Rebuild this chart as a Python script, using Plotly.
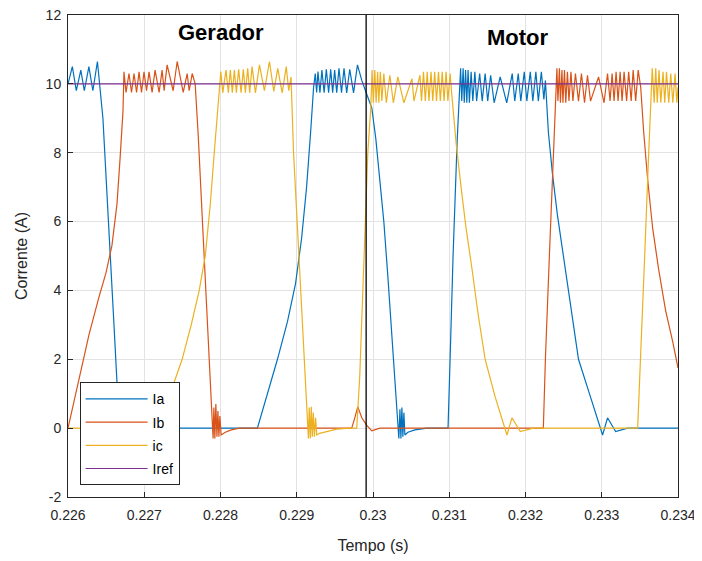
import plotly.graph_objects as go

# Phase currents (time in s, current in A)
t_ia = [0.226000, 0.226057, 0.226109, 0.226168, 0.226214, 0.226274, 0.226326, 0.226386,
        0.226458, 0.226537, 0.226603, 0.226655, 0.226695, 0.228484, 0.228616, 0.228747,
        0.228879, 0.228984, 0.229063, 0.229129, 0.229182, 0.229221, 0.229243, 0.229261,
        0.229278, 0.229304, 0.229330, 0.229359, 0.229388, 0.229418, 0.229445, 0.229471,
        0.229497, 0.229524, 0.229554, 0.229587, 0.229620, 0.229655, 0.229695, 0.229745,
        0.229796, 0.229853, 0.229918, 0.229984, 0.230037, 0.230089, 0.230142, 0.230195,
        0.230234, 0.230274, 0.230307, 0.230326, 0.230339, 0.230353, 0.230366, 0.230379,
        0.230392, 0.230405, 0.230418, 0.230458, 0.230550, 0.230708, 0.230984, 0.231011,
        0.231050, 0.231103, 0.231149, 0.231164, 0.231182, 0.231197, 0.231214, 0.231230,
        0.231247, 0.231264, 0.231287, 0.231309, 0.231336, 0.231359, 0.231399, 0.231432,
        0.231471, 0.231504, 0.231543, 0.231589, 0.231668, 0.231754, 0.231826, 0.231859,
        0.231905, 0.231938, 0.231984, 0.232017, 0.232063, 0.232096, 0.232136, 0.232168,
        0.232208, 0.232241, 0.232261, 0.232300, 0.232353, 0.232418, 0.232497, 0.232589,
        0.232695, 0.232853, 0.232958, 0.233011, 0.233076, 0.233182, 0.233339, 0.234000]
i_a = [10.0, 10.5, 9.8, 10.4, 9.8, 10.5, 9.8, 10.65,
       9.0, 5.9, 3.0, 0.8, 0.0, 0.0, 1.0, 2.0,
       3.1, 4.2, 5.5, 7.0, 8.6, 9.9, 10.3, 9.75,
       10.36, 9.74, 10.4, 9.74, 10.42, 9.74, 10.42, 9.74,
       10.4, 9.74, 10.45, 9.74, 10.45, 9.74, 10.42, 9.74,
       10.55, 10.1, 9.7, 9.3, 8.4, 7.2, 6.0, 4.4,
       3.1, 1.8, 0.7, 0.0, -0.3, 0.55, -0.3, 0.6,
       -0.25, 0.45, -0.2, -0.12, -0.05, 0.0, 0.0, 2.0,
       5.0, 8.3, 10.45, 9.5, 10.45, 9.45, 10.4, 9.45,
       10.4, 9.45, 10.35, 9.5, 10.35, 9.5, 10.3, 9.5,
       10.3, 9.5, 10.25, 9.45, 10.2, 9.45, 10.3, 9.5,
       10.3, 9.5, 10.35, 9.5, 10.35, 9.5, 10.35, 9.5,
       10.35, 9.55, 10.1, 8.6, 7.4, 6.2, 5.0, 3.6,
       2.0, 0.9, 0.2, -0.2, 0.3, -0.1, 0.0, 0.0]

t_ib = [0.226000, 0.226142, 0.226274, 0.226405, 0.226497, 0.226576, 0.226642, 0.226682,
        0.226721, 0.226734, 0.226761, 0.226800, 0.226833, 0.226866, 0.226899, 0.226932,
        0.226964, 0.226997, 0.227030, 0.227063, 0.227103, 0.227142, 0.227195, 0.227234,
        0.227261, 0.227300, 0.227379, 0.227432, 0.227511, 0.227563, 0.227589, 0.227629,
        0.227668, 0.227708, 0.227761, 0.227813, 0.227853, 0.227892, 0.227903, 0.227913,
        0.227926, 0.227939, 0.227953, 0.227966, 0.227979, 0.227992, 0.228008, 0.228063,
        0.228142, 0.228247, 0.229721, 0.229761, 0.229800, 0.229853, 0.229918, 0.229984,
        0.230089, 0.232234, 0.232261, 0.232313, 0.232366, 0.232412, 0.232425, 0.232445,
        0.232458, 0.232478, 0.232491, 0.232511, 0.232528, 0.232550, 0.232570, 0.232596,
        0.232622, 0.232655, 0.232695, 0.232734, 0.232774, 0.232813, 0.232853, 0.232958,
        0.233030, 0.233076, 0.233109, 0.233136, 0.233162, 0.233188, 0.233214, 0.233241,
        0.233267, 0.233293, 0.233326, 0.233353, 0.233386, 0.233412, 0.233445, 0.233478,
        0.233511, 0.233550, 0.233603, 0.233668, 0.233747, 0.233839, 0.233932, 0.234000]
i_b = [0.0, 1.4, 2.7, 3.8, 4.5, 5.3, 6.5, 7.8,
       9.2, 10.35, 9.75, 10.3, 9.75, 10.3, 9.75, 10.35,
       9.75, 10.35, 9.8, 10.35, 9.75, 10.4, 9.75, 10.4,
       9.8, 10.55, 9.8, 10.65, 9.75, 10.3, 9.8, 10.3,
       10.0, 8.5, 6.2, 3.9, 2.0, 0.2, -0.3, 0.6,
       -0.3, 0.7, -0.25, 0.5, -0.25, 0.35, -0.2, -0.12,
       -0.05, 0.0, 0.0, 0.3, 0.62, 0.3, 0.08, -0.08,
       0.0, 0.0, 2.0, 5.0, 8.0, 10.45, 9.5, 10.45,
       9.45, 10.4, 9.45, 10.4, 9.45, 10.35, 9.5, 10.35,
       9.5, 10.3, 9.5, 10.3, 9.45, 10.25, 9.5, 10.2,
       9.45, 10.3, 9.5, 10.3, 9.5, 10.35, 9.5, 10.35,
       9.5, 10.35, 9.5, 10.35, 9.5, 10.4, 9.5, 10.4,
       9.9, 8.6, 7.2, 5.8, 4.6, 3.4, 2.5, 1.75]

t_ic = [0.226000, 0.227129, 0.227261, 0.227392, 0.227497, 0.227616, 0.227721, 0.227800,
        0.227866, 0.227918, 0.227971, 0.228004, 0.228030, 0.228072, 0.228103, 0.228129,
        0.228155, 0.228182, 0.228208, 0.228238, 0.228270, 0.228300, 0.228326, 0.228357,
        0.228383, 0.228414, 0.228458, 0.228511, 0.228576, 0.228642, 0.228699, 0.228751,
        0.228809, 0.228862, 0.228895, 0.228925, 0.228958, 0.229011, 0.229063, 0.229103,
        0.229142, 0.229153, 0.229164, 0.229178, 0.229191, 0.229204, 0.229217, 0.229232,
        0.229247, 0.229263, 0.229300, 0.229524, 0.229695, 0.229787, 0.229826, 0.229879,
        0.229932, 0.229971, 0.229988, 0.230004, 0.230024, 0.230041, 0.230061, 0.230076,
        0.230096, 0.230116, 0.230142, 0.230175, 0.230221, 0.230267, 0.230326, 0.230405,
        0.230511, 0.230537, 0.230616, 0.230636, 0.230662, 0.230686, 0.230711, 0.230734,
        0.230761, 0.230784, 0.230809, 0.230833, 0.230859, 0.230883, 0.230908, 0.230932,
        0.230958, 0.230982, 0.231011, 0.231037, 0.231089, 0.231155, 0.231221, 0.231300,
        0.231379, 0.231471, 0.231603, 0.231757, 0.231822, 0.231932, 0.232103, 0.233471,
        0.233511, 0.233563, 0.233616, 0.233662, 0.233688, 0.233708, 0.233728, 0.233751,
        0.233774, 0.233804, 0.233826, 0.233849, 0.233879, 0.233905, 0.233932, 0.233962,
        0.233984, 0.234000]
i_c = [0.0, 0.0, 0.5, 1.3, 2.0, 3.0, 4.0, 5.0,
       6.5, 8.0, 9.4, 10.36, 9.74, 10.4, 9.74, 10.4,
       9.74, 10.4, 9.74, 10.42, 9.74, 10.42, 9.74, 10.45,
       9.74, 10.5, 9.74, 10.55, 9.8, 10.65, 9.78, 10.45,
       9.74, 10.5, 9.8, 10.2, 8.0, 5.8, 3.6, 1.8,
       0.2, -0.3, 0.6, -0.3, 0.62, -0.25, 0.45, -0.25,
       0.3, -0.2, -0.15, -0.03, 0.0, 0.0, 1.5, 5.0,
       8.0, 9.3, 10.4, 9.45, 10.4, 9.45, 10.35, 9.45,
       10.35, 9.5, 10.3, 9.45, 10.25, 9.45, 10.2, 9.45,
       10.15, 9.5, 10.25, 9.5, 10.35, 9.5, 10.35, 9.5,
       10.35, 9.5, 10.35, 9.5, 10.35, 9.5, 10.35, 9.5,
       10.35, 9.5, 10.3, 9.6, 8.3, 7.0, 5.8, 4.6,
       3.3, 2.0, 0.9, -0.2, 0.3, -0.1, 0.0, 0.0,
       2.0, 5.0, 8.0, 10.45, 9.45, 10.45, 9.45, 10.4,
       9.45, 10.35, 9.45, 10.35, 9.45, 10.3, 9.45, 10.3,
       9.45, 9.9]

t_ref = [0.226, 0.234]
i_ref = [10.0, 10.0]

t_transicao = 0.22991   # instante da troca gerador -> motor

x_ticks = [0.226, 0.227, 0.228, 0.229, 0.230, 0.231, 0.232, 0.233, 0.234]
x_labels = ['0.226', '0.227', '0.228', '0.229', '0.23', '0.231', '0.232', '0.233', '0.234']
y_ticks = [-2, 0, 2, 4, 6, 8, 10, 12]
y_labels = ['-2', '0', '2', '4', '6', '8', '10', '12']

font_family = 'Liberation Sans, Arial, sans-serif'

fig = go.Figure()
series = [
    (t_ia, i_a, 'Ia', '#0072BD'),
    (t_ib, i_b, 'Ib', '#D95319'),
    (t_ic, i_c, 'ic', '#EDB120'),
    (t_ref, i_ref, 'Iref', '#7E2F8E'),
]
for t, i, name, color in series:
    fig.add_trace(go.Scatter(
        x=t, y=i, name=name, mode='lines', legendgroup=name,
        line=dict(color=color, width=1.2)
    ))

fig.add_shape(type='line', xref='x', yref='paper', x0=t_transicao, x1=t_transicao,
              y0=0, y1=1, line=dict(color='black', width=1.3))

fig.add_annotation(x=0.228, y=11.48, text='<b>Gerador</b>', showarrow=False,
                   font=dict(size=22, color='black', family=font_family))
fig.add_annotation(x=0.2319, y=11.34, text='<b>Motor</b>', showarrow=False,
                   font=dict(size=22, color='black', family=font_family))

axis_common = dict(
    showgrid=True, gridcolor='#e3e3e3', gridwidth=1,
    showline=True, linecolor='#262626', linewidth=1, mirror=True,
    ticks='inside', ticklen=5, tickcolor='#262626', automargin=False,
    ticklabeloverflow='allow',
    zeroline=False, tickfont=dict(size=14, color='#262626', family=font_family),
)

fig.update_xaxes(range=[0.226, 0.234], tickvals=x_ticks, ticktext=x_labels,
                 ticklabelstandoff=5,
                 title=dict(text='Tempo (s)', font=dict(size=16, color='#262626', family=font_family),
                            standoff=18),
                 **axis_common)
fig.update_yaxes(range=[-2, 12], tickvals=y_ticks, ticktext=y_labels,
                 ticklabelstandoff=3,
                 title=dict(text='Corrente (A)', font=dict(size=16, color='#262626', family=font_family),
                            standoff=14),
                 **axis_common)

# the page body adds an 8 px margin, so the figure is sized to fit the window
fig.update_layout(
    width=694, height=553,
    margin=dict(l=60, r=24, t=7, b=64),
    paper_bgcolor='white', plot_bgcolor='white',
    font=dict(family=font_family, color='#262626'),
    legend=dict(
        x=0.019, y=0.238, xanchor='left', yanchor='top',
        bgcolor='white', bordercolor='#262626', borderwidth=1,
        font=dict(size=14, color='black', family=font_family),
        itemwidth=62, tracegroupgap=2, entrywidth=105,
    ),
)

fig.write_html("out.html")
